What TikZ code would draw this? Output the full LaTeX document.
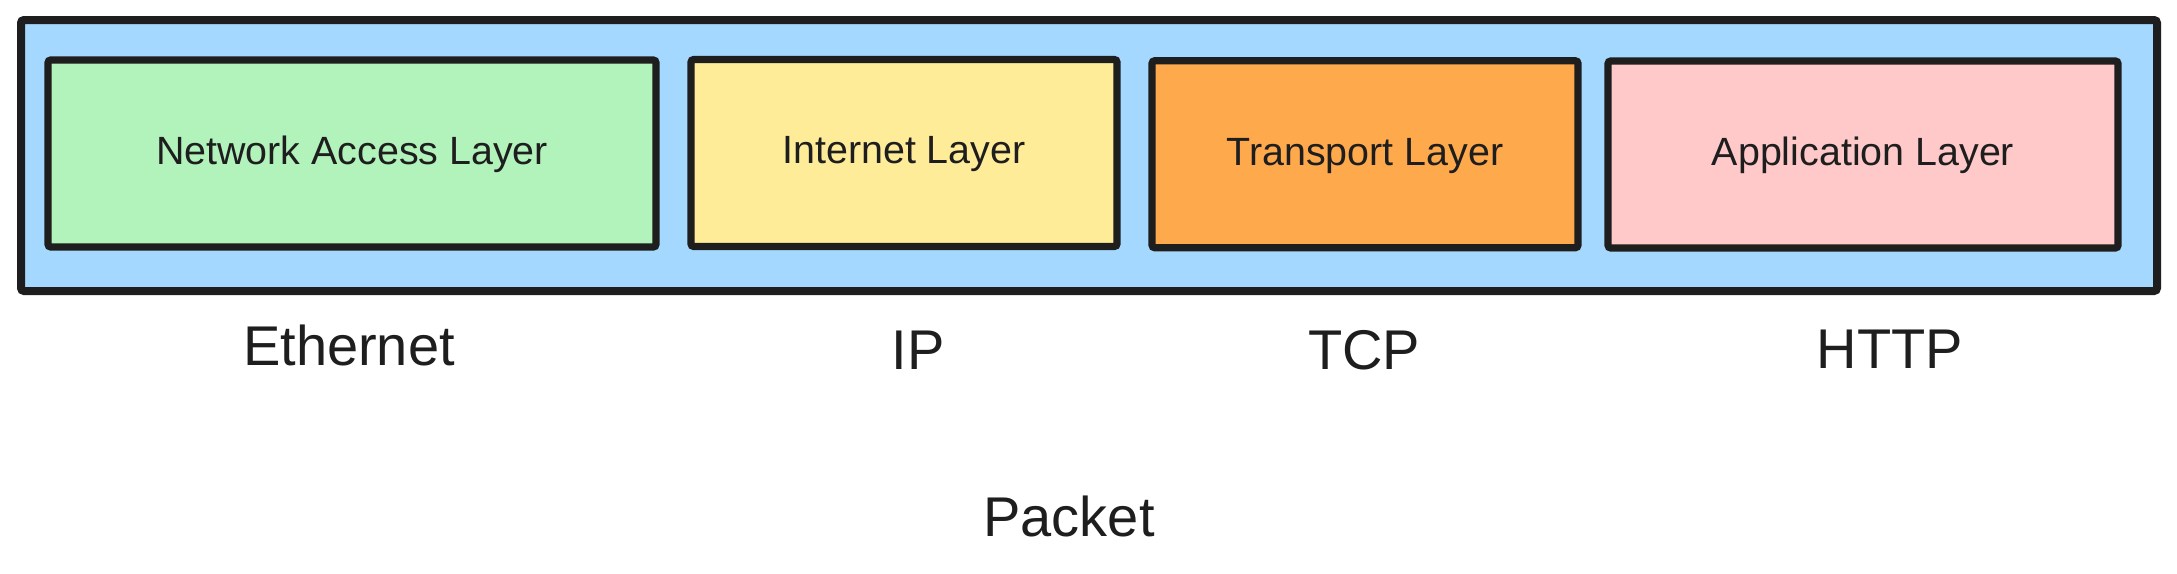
\documentclass[tikz,border=0pt]{standalone}
\usepackage{fontspec}
\setmainfont{Liberation Sans}
\definecolor{ink}{HTML}{1E1E1E}
\definecolor{cblue}{HTML}{A5D8FF}
\definecolor{cgreen}{HTML}{B2F2BB}
\definecolor{cyellow}{HTML}{FFEC99}
\definecolor{corange}{HTML}{FFA94D}
\definecolor{cpink}{HTML}{FFC9C9}
\tikzset{
  frame/.style={draw=ink, line width=4pt, rounded corners=1.5pt, inner sep=0pt, fill=cblue},
  layerbox/.style={draw=ink, line width=3.7pt, rounded corners=1.5pt, inner sep=0pt,
    text=ink, font=\fontsize{19.7pt}{22pt}\selectfont, text height=14.8pt, text depth=4pt,
    minimum height=93.5pt},
  proto/.style={anchor=base, text=ink, inner sep=0pt, font=\fontsize{28pt}{32pt}\selectfont}
}
\begin{document}
\begin{tikzpicture}[x=0.5pt, y=-0.5pt]
\useasboundingbox (0,0) rectangle (2177,573);
\node[frame, minimum width=1068pt, minimum height=135.5pt] (frame) at (1089,155.5) {};
\node[layerbox, fill=cgreen, minimum width=304pt] (net) at (352,153.5) {Network Access Layer};
\node[layerbox, fill=cyellow, minimum width=213pt] (inet) at (904,153) {Internet Layer};
\node[layerbox, fill=corange, minimum width=213pt] (trans) at (1365,154.25) {Transport Layer};
\node[layerbox, fill=cpink, minimum width=255pt] (app) at (1863,154.5) {Application Layer};
\node[proto] (eth) at (349,365) {Ethernet};
\node[proto] (ip) at (918,369) {IP};
\node[proto] (tcp) at (1364,369) {TCP};
\node[proto] (http) at (1890,368) {HTTP};
\node[proto] (packet) at (1069,536) {Packet};
\end{tikzpicture}
\end{document}
